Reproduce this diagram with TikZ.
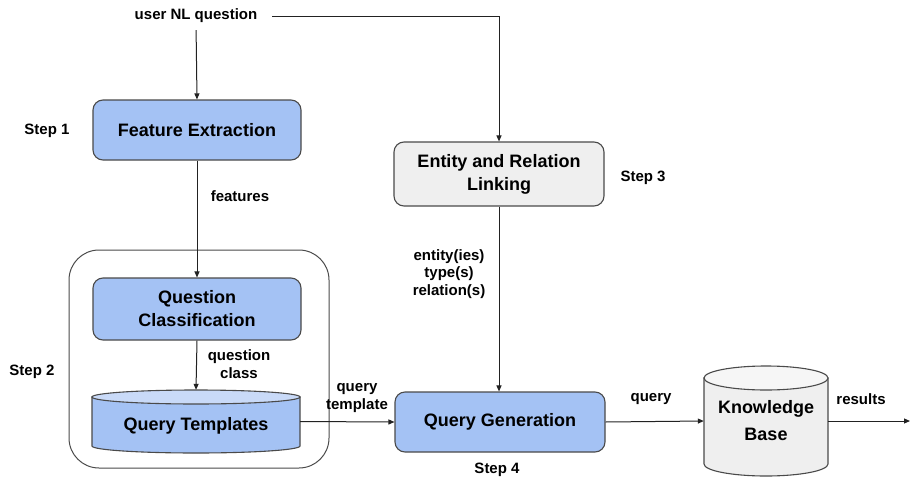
\documentclass[tikz,border=0pt]{standalone}
\usepackage{fontspec}
\setmainfont{Liberation Sans}
\usetikzlibrary{arrows.meta}
\definecolor{boxblue}{HTML}{A4C2F4}
\definecolor{topblue}{HTML}{C9DAF8}
\definecolor{boxgray}{HTML}{EFEFEF}
\definecolor{topgray}{HTML}{F6F6F6}
\definecolor{edgecol}{HTML}{4A4A4A}
\definecolor{linecol}{HTML}{222222}
\begin{document}
\begin{tikzpicture}[x=1pt,y=-1pt,
  procbox/.style={draw=edgecol, line width=1.1pt, rounded corners=10pt,
    minimum width=208pt, minimum height=60pt, inner sep=0pt, align=center,
    font=\fontsize{18}{23}\selectfont\bfseries},
  cyltext/.style={inner sep=0pt, align=center, font=\fontsize{18}{27}\selectfont\bfseries},
  lbl/.style={font=\fontsize{15}{17.5}\selectfont\bfseries, align=center, inner sep=0pt},
  arr/.style={-{Triangle[length=6pt,width=5pt]}, line width=1pt, draw=linecol},
  cylbody/.style={draw=edgecol, line width=1.1pt}]
\useasboundingbox (0,0) rectangle (910,482);

% group frame
\node[draw=edgecol, line width=1pt, rounded corners=30pt, minimum width=260pt,
  minimum height=218pt, inner sep=0pt] (grp) at (199,359) {};

% process boxes
\node[procbox, fill=boxblue] (fe) at (197,130) {Feature Extraction};
\node[procbox, fill=boxblue, minimum height=62pt] (qc) at (197,309) {Question\\Classification};
\node[procbox, fill=boxgray, minimum width=210pt, minimum height=64pt] (er) at (499,174) {Entity and Relation\\Linking};
\node[procbox, fill=boxblue, minimum width=210pt] (qg) at (500,422) {Query Generation};

% Query Templates cylinder
\filldraw[cylbody, fill=boxblue] (92,397) -- (92,446)
  arc[start angle=180, end angle=0, x radius=104, y radius=7] -- (300,397) -- cycle;
\filldraw[cylbody, fill=topblue] (196,397) ellipse[x radius=104, y radius=7];
\node[cyltext, minimum width=208pt, minimum height=63pt, text height=21pt, text depth=4pt] (qt) at (196,421.5) {Query Templates};

% Knowledge Base cylinder
\filldraw[cylbody, fill=boxgray] (704,378) -- (704,464)
  arc[start angle=180, end angle=0, x radius=62, y radius=12] -- (828,378) -- cycle;
\filldraw[cylbody, fill=topgray] (766,378) ellipse[x radius=62, y radius=12];
\node[cyltext, minimum width=124pt, minimum height=110pt] (kb) at (766,421) {Knowledge\\Base};

% labels
\node[lbl] (q) at (196,16) {user NL question};
\node[lbl] (s1) at (47,131) {Step 1};
\node[lbl] (s2) at (32,372) {Step 2};
\node[lbl] (s3) at (643,178) {Step 3};
\node[lbl] (s4) at (497,470) {Step 4};
\node[lbl] (lf) at (240,196) {features};
\node[lbl] (lqc) at (239,364) {question\\class};
\node[lbl] (lqt) at (357,398) {query\\template};
\node[lbl] (lent) at (449,274) {entity(ies)\\type(s)\\relation(s)};
\node[lbl] (lq) at (651,399) {query};
\node[lbl] (lr) at (861,399) {results};
\coordinate (res) at (910,421);

% connectors
\draw[arr, shorten <=7pt] (q.south) -- (fe.north);
\draw[arr, shorten <=15pt] (q.east) -| (er.north);
\draw[arr] (fe.south) -- (qc.north);
\draw[arr] (qc.south) -- (qt.north);
\draw[arr] (er.south) -- (er.south |- qg.north);
\draw[arr] (qt.east) -- (qg.west);
\draw[arr] (qg.east) -- (kb.west);
\draw[arr] (kb.east) -- (res);
\end{tikzpicture}
\end{document}
